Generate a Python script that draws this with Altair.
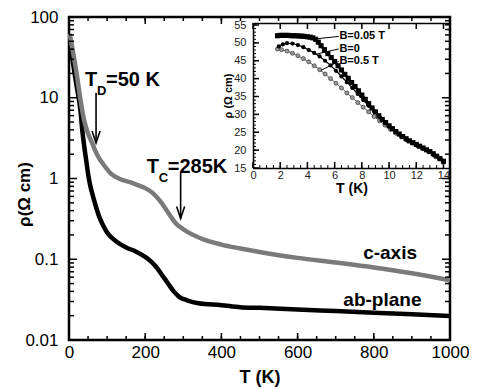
import altair as alt
import pandas as pd

# ---------------- main panel data ----------------
ab_T = [3, 10, 20, 30, 35, 40, 45, 50, 55, 60, 70, 80, 90, 100, 125, 150, 175, 200, 215, 230, 245, 260, 275, 290, 310, 340, 400, 450, 500, 600, 700, 800, 900, 1000]
ab_rho = [50, 28, 14, 7.0, 3.9, 2.5, 1.7, 1.15, 0.85, 0.68, 0.46, 0.33, 0.26, 0.215, 0.165, 0.14, 0.125, 0.107, 0.094, 0.079, 0.063, 0.05, 0.04, 0.034, 0.031, 0.0285, 0.027, 0.0255, 0.025, 0.0238, 0.0228, 0.0218, 0.0208, 0.0198]
c_T = [2, 10, 20, 30, 40, 50, 60, 70, 80, 90, 110, 135, 160, 180, 200, 220, 240, 260, 280, 300, 350, 400, 450, 500, 600, 700, 800, 900, 1000]
c_rho = [62, 38, 20, 9.5, 5.2, 3.6, 2.8, 2.15, 1.75, 1.5, 1.15, 0.98, 0.9, 0.83, 0.76, 0.66, 0.52, 0.38, 0.28, 0.235, 0.178, 0.152, 0.136, 0.123, 0.104, 0.091, 0.079, 0.067, 0.055]

# ---------------- inset data ----------------
b005_T = [1.8, 2.0, 2.2, 2.4, 2.6, 2.8, 3.0, 3.2, 3.4, 3.6, 3.8, 4.0, 4.2, 4.4, 4.6, 4.8, 5.0, 5.25, 5.5, 5.75, 6.0, 6.25, 6.5, 6.75, 7.0, 7.25, 7.5, 7.75, 8.0, 8.25, 8.5, 8.75, 9.0, 9.25, 9.5, 9.75, 10.0, 10.25, 10.5, 10.75, 11.0, 11.25, 11.5, 11.75, 12.0, 12.25, 12.5, 12.75, 13.0, 13.25, 13.5, 13.75, 14.0]
b005_rho = [52.0, 52.1, 52.1, 52.1, 52.1, 52.0, 52.0, 52.0, 51.9, 51.9, 51.8, 51.7, 51.6, 51.4, 51.0, 50.2, 49.2, 48.1, 47.0, 45.9, 44.8, 43.6, 42.4, 41.2, 40.1, 38.9, 37.8, 36.6, 35.4, 34.2, 33.0, 31.8, 30.7, 29.6, 28.6, 27.7, 26.8, 26.0, 25.2, 24.5, 23.8, 23.2, 22.6, 22.1, 21.6, 21.1, 20.6, 20.1, 19.6, 19.0, 18.3, 17.6, 16.9]
b0_T = [1.9, 2.2, 2.5, 2.9, 3.3, 3.7, 4.1, 4.5, 4.9, 5.3, 5.7, 6.1, 6.5, 6.9, 7.3, 7.7, 8.1, 8.5, 8.9, 9.3, 9.7, 10.1, 10.5, 10.9, 11.3, 11.7, 12.1, 12.5, 12.9, 13.3, 13.7, 14.0]
b0_rho = [49.0, 49.6, 49.9, 49.8, 49.4, 48.8, 48.0, 47.2, 46.2, 45.0, 43.7, 42.2, 40.6, 39.0, 37.4, 35.7, 34.0, 32.4, 30.8, 29.3, 27.8, 26.4, 25.1, 23.9, 22.9, 22.0, 21.2, 20.5, 19.6, 18.6, 17.6, 16.7]
b05_T = [1.8, 2.1, 2.5, 2.9, 3.3, 3.7, 4.1, 4.5, 4.9, 5.3, 5.7, 6.1, 6.5, 6.9, 7.3, 7.7, 8.1, 8.5, 8.9, 9.3, 9.7, 10.1, 10.5, 10.9, 11.3, 11.7, 12.1, 12.5, 12.9, 13.3, 13.7, 14.0]
b05_rho = [48.3, 48.1, 47.7, 47.1, 46.4, 45.6, 44.7, 43.6, 42.5, 41.3, 40.0, 38.7, 37.4, 36.0, 34.7, 33.3, 32.0, 30.7, 29.4, 28.2, 27.0, 25.8, 24.7, 23.7, 22.8, 22.0, 21.2, 20.4, 19.6, 18.6, 17.6, 16.6]

# ---------------- annotations ----------------
ann_T = [42, 204]
ann_rho = [13.98, 1.17]
ann_sub = ["D", "C"]
ann_rest = ["=50 K", "=285K"]
arrow_T = [71, 293]
arrow_top = [11.5, 1.2]
arrow_tip = [2.76, 0.32]
ser_lab = ["c-axis", "ab-plane"]
ser_lab_T = [772, 720]
ser_lab_rho = [0.1007, 0.0264]

ins_lab = ["B=0.05 T", "B=0", "B=0.5 T"]
ins_lab_T = [6.35, 6.35, 6.35]
ins_lab_rho = [51.8, 48.3, 44.8]
lead_T1 = [4.3, 4.6, 5.0]
lead_r1 = [51.0, 46.8, 42.3]
lead_T2 = [6.3, 6.3, 6.3]
lead_r2 = [51.8, 48.3, 44.8]

# tick positions
x_minor = list(range(0, 1001, 50))
x_major = list(range(0, 1001, 200))
y_major = [0.01, 0.1, 1, 10, 100]
y_minor = [k * 10.0 ** e for e in range(-2, 2) for k in range(2, 10)]
ix_minor = [i * 0.5 for i in range(0, 29)]
ix_major = list(range(0, 15, 2))
iy_minor = list(range(15, 56))
iy_major = list(range(15, 56, 5))

FONT = "Liberation Sans"
W, H = 381, 323

main_x = alt.Scale(domain=[0, 1000], nice=False, zero=False)
main_y = alt.Scale(type="log", domain=[0.01, 100], nice=False)
ins_x = alt.Scale(domain=[0, 14.48], range=[184, 381], nice=False, zero=False)
ins_y = alt.Scale(domain=[15, 55.56], range=[151, 6], nice=False, zero=False)

main_df = pd.concat([
    pd.DataFrame({"T": ab_T, "rho": ab_rho, "s": "ab-plane"}),
    pd.DataFrame({"T": c_T, "rho": c_rho, "s": "c-axis"}),
])


def xticks(values, xs, ys, at, size, inward_sign, thick=1.5, color="black"):
    """vertical tick marks at x=values on the horizontal border y=at"""
    df = pd.DataFrame({"v": values, "at": [at] * len(values)})
    return alt.Chart(df).mark_rule(strokeWidth=thick, color=color, opacity=1,
                                   yOffset=0, y2Offset=inward_sign * size).encode(
        x=alt.X("v:Q", scale=xs, axis=None),
        y=alt.Y("at:Q", scale=ys, axis=None),
        y2=alt.Y2("at:Q"),
    )


def yticks(values, xs, ys, at, size, inward_sign, thick=1.5, color="black"):
    """horizontal tick marks at y=values on the vertical border x=at"""
    df = pd.DataFrame({"v": values, "at": [at] * len(values)})
    return alt.Chart(df).mark_rule(strokeWidth=thick, color=color, opacity=1,
                                   xOffset=0, x2Offset=inward_sign * size).encode(
        y=alt.Y("v:Q", scale=ys, axis=None),
        x=alt.X("at:Q", scale=xs, axis=None),
        x2=alt.X2("at:Q"),
    )


lines = alt.Chart(main_df).mark_line(strokeWidth=4.5, interpolate="monotone").encode(
    x=alt.X("T:Q", scale=main_x,
            axis=alt.Axis(orient="bottom", values=x_major, format="d", ticks=False, tickSize=0, domain=False,
                          grid=False, labelFontSize=17, labelPadding=4, labelFlush=False,
                          labelColor="black", title="T (K)", titleFontSize=18,
                          titleFontWeight="bold", titleBaseline="middle", titleY=37,
                          titleColor="black")),
    y=alt.Y("rho:Q", scale=main_y,
            axis=alt.Axis(orient="left", values=y_major, format="~g", ticks=False, tickSize=0,
                          domain=False, grid=False, labelFontSize=17, labelPadding=11,
                          labelColor="black", title="ρ(Ω cm)", titleFontSize=17,
                          titleFontWeight="bold", titleBaseline="middle", titleAlign="center",
                          titleAngle=-90, titleX=-45, titleY=177, titleColor="black")),
    color=alt.Color("s:N", scale=alt.Scale(domain=["ab-plane", "c-axis"], range=["#000000", "#7a7a7a"]), legend=None),
    order=alt.Order("s:N", sort="descending"),
)

main_ticks = [
    xticks(x_minor, main_x, main_y, 0.01, 4, -1),
    xticks(x_major, main_x, main_y, 0.01, 7, -1),
    xticks(x_minor, main_x, main_y, 100, 4, 1),
    xticks(x_major, main_x, main_y, 100, 7, 1),
    yticks(y_minor, main_x, main_y, 0, 5, 1),
    yticks(y_major, main_x, main_y, 0, 8, 1),
    yticks(y_minor, main_x, main_y, 1000, 5, -1),
    yticks(y_major, main_x, main_y, 1000, 8, -1),
]

ann_df = pd.DataFrame({"T": ann_T, "rho": ann_rho, "sub": ann_sub, "rest": ann_rest, "t": ["T", "T"]})
ann_enc = dict(x=alt.X("T:Q", scale=main_x, axis=None), y=alt.Y("rho:Q", scale=main_y, axis=None))
a1 = alt.Chart(ann_df).mark_text(font=FONT, fontSize=20, fontWeight="bold", align="left", baseline="alphabetic").encode(text="t:N", **ann_enc)
a2 = alt.Chart(ann_df).mark_text(font=FONT, fontSize=13, fontWeight="bold", align="left", baseline="alphabetic", dx=12, dy=9).encode(text="sub:N", **ann_enc)
a3 = alt.Chart(ann_df).mark_text(font=FONT, fontSize=20, fontWeight="bold", align="left", baseline="alphabetic", dx=21).encode(text="rest:N", **ann_enc)

arr_df = pd.DataFrame({"T": arrow_T, "top": arrow_top, "tip": arrow_tip})
arr_rule = alt.Chart(arr_df).mark_rule(color="black", strokeWidth=1.6).encode(
    x=alt.X("T:Q", scale=main_x, axis=None),
    y=alt.Y("top:Q", scale=main_y, axis=None), y2="tip:Q")
arr_head = alt.Chart(arr_df).mark_point(shape="M-1,-3L0,0L1,-3", filled=False, color="black",
                                        strokeWidth=1.6, size=64, opacity=1).encode(
    x=alt.X("T:Q", scale=main_x, axis=None),
    y=alt.Y("tip:Q", scale=main_y, axis=None))

ser_df = pd.DataFrame({"T": ser_lab_T, "rho": ser_lab_rho, "lab": ser_lab})
ser_txt = alt.Chart(ser_df).mark_text(font=FONT, fontSize=19, fontWeight="bold", align="left", baseline="alphabetic").encode(
    x=alt.X("T:Q", scale=main_x, axis=None), y=alt.Y("rho:Q", scale=main_y, axis=None), text="lab:N")

# ---------------- inset ----------------
ins_dom = pd.DataFrame({"x": [0, 14], "y": [15, 55]})
ins_axes = alt.Chart(ins_dom).mark_point(opacity=0).encode(
    x=alt.X("x:Q", scale=ins_x,
            axis=alt.Axis(orient="bottom", offset=151 - H, values=ix_major, ticks=False, tickSize=0,
                          domain=True, domainColor="black", domainWidth=1.5, grid=False,
                          labelFontSize=11, labelPadding=1, labelFlush=False, labelColor="#222",
                          title="T (K)", titleFontSize=14, titleFontWeight="bold", titleBaseline="middle",
                          titleY=20, titleColor="black")),
    y=alt.Y("y:Q", scale=ins_y,
            axis=alt.Axis(orient="left", offset=-184, values=iy_major, ticks=False, tickSize=0,
                          domain=True, domainColor="black", domainWidth=1.5, grid=False,
                          labelFontSize=11, labelPadding=7, labelColor="#222",
                          title="ρ (Ω cm)", titleFontSize=11, titleFontWeight="bold", titleBaseline="middle",
                          titleAlign="center", titleAngle=-90, titleX=-25, titleColor="black")),
)
ins_top = alt.Chart(ins_dom).mark_point(opacity=0).encode(
    x=alt.X("x:Q", scale=ins_x,
            axis=alt.Axis(orient="bottom", offset=6 - H, ticks=False, labels=False, domain=True,
                          domainColor="black", domainWidth=1.5, grid=False, title=None)),
    y=alt.Y("y:Q", scale=ins_y, axis=None),
)

ins_ticks = [
    xticks(ix_minor, ins_x, ins_y, 15, 3, -1, thick=1),
    xticks(ix_major, ins_x, ins_y, 15, 6, -1),
    xticks(ix_major, ins_x, ins_y, 55.56, 6, 1),
    yticks(iy_minor, ins_x, ins_y, 0, 3, 1, thick=1),
    yticks(iy_major, ins_x, ins_y, 0, 6, 1),
]


def ins_enc():
    return dict(x=alt.X("T:Q", scale=ins_x, axis=None), y=alt.Y("rho:Q", scale=ins_y, axis=None))


d005 = pd.DataFrame({"T": b005_T, "rho": b005_rho})
d0 = pd.DataFrame({"T": b0_T, "rho": b0_rho})
d05 = pd.DataFrame({"T": b05_T, "rho": b05_rho})

l05 = alt.Chart(d05).mark_line(color="#555555", strokeWidth=1).encode(**ins_enc())
p05 = alt.Chart(d05).mark_point(shape="circle", filled=True, fill="#9a9a9a", stroke="#444444",
                                strokeWidth=0.8, size=16, opacity=1).encode(**ins_enc())
l0 = alt.Chart(d0).mark_line(color="black", strokeWidth=1.2).encode(**ins_enc())
p0 = alt.Chart(d0).mark_point(shape="circle", filled=True, color="black", size=18, opacity=1).encode(**ins_enc())
l005 = alt.Chart(d005).mark_line(color="black", strokeWidth=2.5).encode(**ins_enc())
p005 = alt.Chart(d005).mark_point(shape="square", filled=True, color="black", size=26, opacity=1).encode(**ins_enc())

lead_df = pd.DataFrame({"T1": lead_T1, "r1": lead_r1, "T2": lead_T2, "r2": lead_r2})
leads = alt.Chart(lead_df).mark_rule(color="black", strokeWidth=1).encode(
    x=alt.X("T1:Q", scale=ins_x, axis=None), y=alt.Y("r1:Q", scale=ins_y, axis=None),
    x2="T2:Q", y2="r2:Q")
ins_lab_df = pd.DataFrame({"T": ins_lab_T, "rho": ins_lab_rho, "lab": ins_lab})
ins_txt = alt.Chart(ins_lab_df).mark_text(font=FONT, fontSize=11, fontWeight="bold", align="left", baseline="middle").encode(
    text="lab:N", **ins_enc())

chart = alt.layer(
    lines, *main_ticks, a1, a2, a3, arr_rule, arr_head, ser_txt,
    ins_axes, ins_top, *ins_ticks, l05, p05, l0, p0, l005, p005, leads, ins_txt,
).resolve_scale(x="independent", y="independent", color="independent").properties(
    width=W, height=H,
    autosize=alt.AutoSizeParams(type="none"),
    padding={"left": 61, "top": 9, "right": 20, "bottom": 47},
).configure(font=FONT).configure_view(stroke="black", strokeWidth=2.5)

chart.save("out.html", embed_options={"renderer": "svg", "actions": False})
